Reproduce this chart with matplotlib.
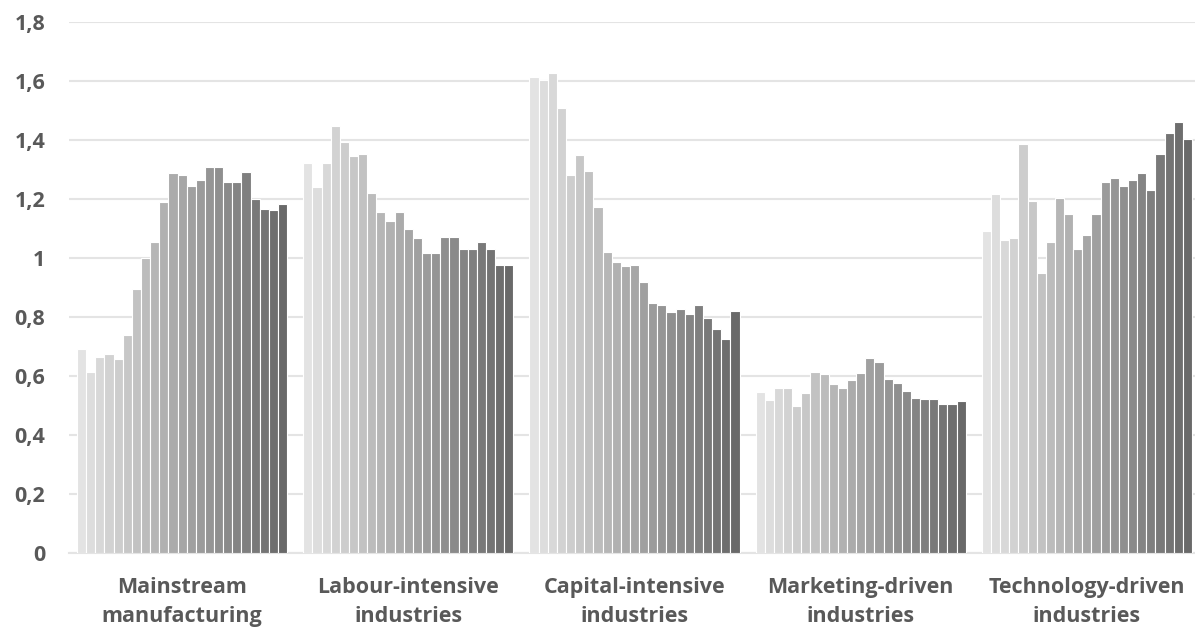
import numpy as np
import matplotlib
matplotlib.use("Agg")
import matplotlib.pyplot as plt

categories = ["Mainstream\nmanufacturing", "Labour-intensive\nindustries",
              "Capital-intensive\nindustries", "Marketing-driven\nindustries",
              "Technology-driven\nindustries"]

mainstream = [0.692, 0.613, 0.666, 0.673, 0.657, 0.740, 0.896, 1.000, 1.053, 1.189,
              1.287, 1.282, 1.243, 1.264, 1.307, 1.307, 1.258, 1.258, 1.290, 1.200,
              1.165, 1.162, 1.184]
labour = [1.322, 1.242, 1.322, 1.446, 1.392, 1.345, 1.351, 1.221, 1.155, 1.127,
          1.156, 1.100, 1.067, 1.017, 1.018, 1.070, 1.072, 1.029, 1.032, 1.053,
          1.030, 0.976, 0.976]
capital = [1.614, 1.602, 1.628, 1.510, 1.282, 1.350, 1.296, 1.174, 1.020, 0.986,
           0.973, 0.977, 0.919, 0.849, 0.840, 0.817, 0.828, 0.809, 0.840, 0.795,
           0.761, 0.725, 0.821]
marketing = [0.547, 0.520, 0.559, 0.559, 0.498, 0.544, 0.615, 0.608, 0.573, 0.559,
             0.588, 0.609, 0.661, 0.649, 0.590, 0.576, 0.549, 0.525, 0.522, 0.522,
             0.504, 0.504, 0.515]
technology = [1.093, 1.216, 1.062, 1.067, 1.385, 1.194, 0.949, 1.053, 1.202, 1.149,
              1.030, 1.079, 1.149, 1.258, 1.270, 1.244, 1.263, 1.289, 1.232, 1.351,
              1.423, 1.462, 1.402]

yticks = [0, 0.2, 0.4, 0.6, 0.8, 1, 1.2, 1.4, 1.6, 1.8]
ytick_labels = ["0", "0,2", "0,4", "0,6", "0,8", "1", "1,2", "1,4", "1,6", "1,8"]

data = np.array([mainstream, labour, capital, marketing, technology])
n_series = data.shape[1]

plt.rcParams["font.family"] = ["Open Sans", "DejaVu Sans"]
text_col = "#595959"

fig = plt.figure(figsize=(11.95, 6.34), dpi=100)
ax = fig.add_axes([69 / 1195, 81 / 634, 1131 / 1195, 531 / 634])

x = np.arange(len(categories))
group_w = 0.929
bar_w = group_w / n_series
grays = np.linspace(0.89, 0.41, n_series)
for i in range(n_series):
    offs = -group_w / 2 + bar_w * (i + 0.5)
    g = grays[i]
    ax.bar(x + offs, data[:, i], width=bar_w, color=(g, g, g),
           edgecolor="white", linewidth=0.8, zorder=3)

ax.set_xlim(-0.5, 4.5)
ax.set_ylim(0, 1.8)
ax.set_yticks(yticks)
ax.set_yticklabels(ytick_labels, fontsize=15.5, fontweight="bold", color=text_col)
ax.set_xticks(x)
ax.set_xticklabels(categories, fontsize=15.5, fontweight="bold", color=text_col,
                   linespacing=1.5)
ax.tick_params(axis="both", length=0)
ax.tick_params(axis="y", pad=17)
ax.tick_params(axis="x", pad=17)
ax.grid(axis="y", color="#e4e4e4", linewidth=1.5, zorder=0)
for s in ["top", "right", "left"]:
    ax.spines[s].set_visible(False)
ax.spines["bottom"].set_color("#e4e4e4")
ax.spines["bottom"].set_linewidth(1.5)

fig.savefig("out.png", dpi=100)
